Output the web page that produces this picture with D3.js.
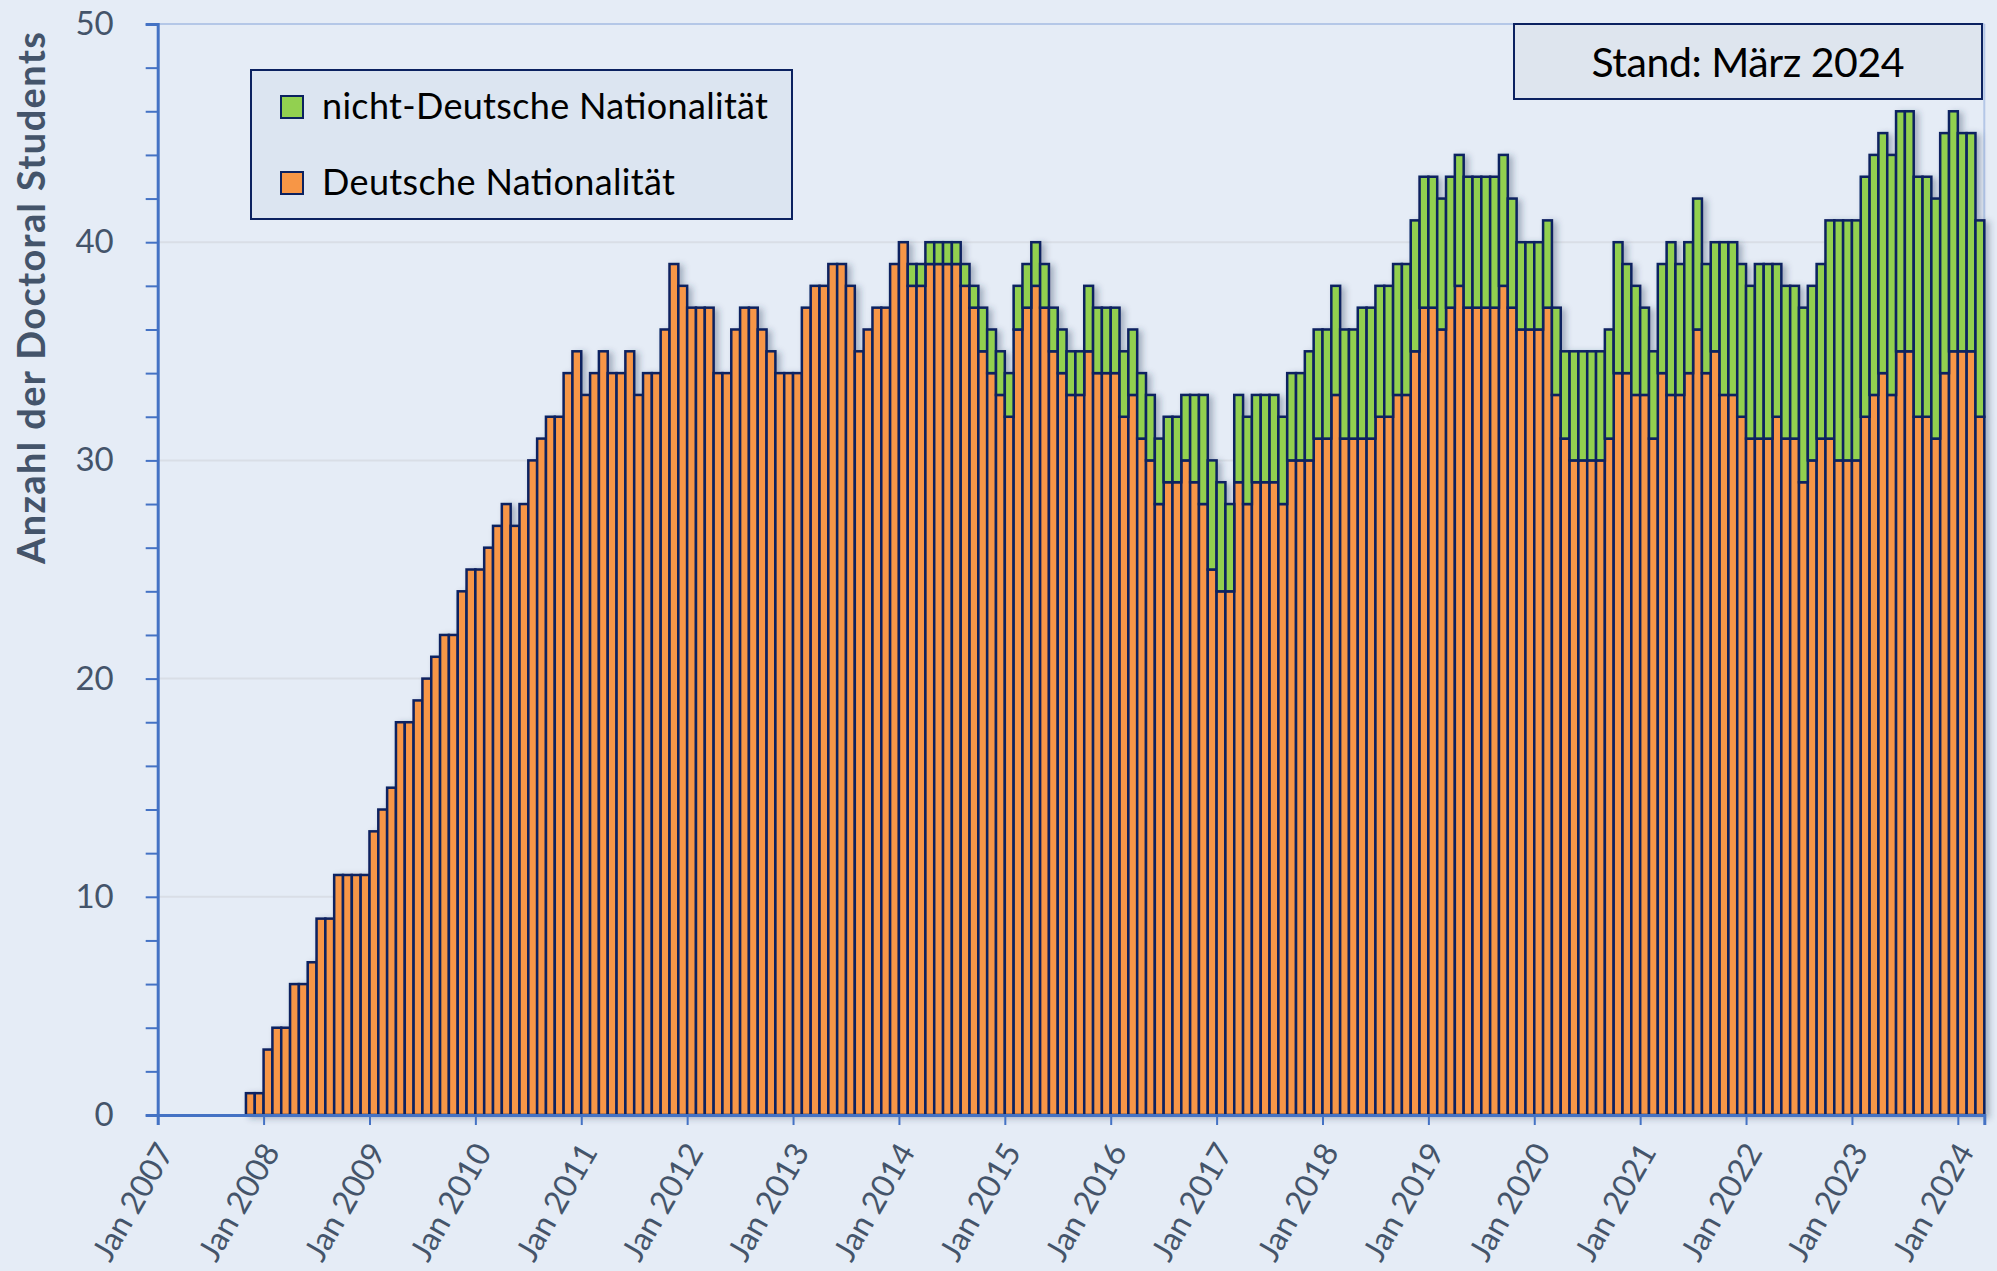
<!DOCTYPE html>
<html>
<head>
<meta charset="utf-8">
<title>Doctoral Students</title>
<script src="https://cdnjs.cloudflare.com/ajax/libs/d3/7.8.5/d3.min.js"></script>
<style>
  body { margin: 0; background: #E5ECF6; }
  svg { display: block; }
  text { font-family: Lato, "Open Sans", sans-serif; }
</style>
</head>
<body>
<div id="chart"></div>
<script>
// first bar = Nov 2007, one value per month up to Mar 2024
const startYear = 2007, startMonth = 10;   // month index 10 = November

const deutsch = [
    1, 1,                                           // 2007
    3, 4, 4, 6, 6, 7, 9, 9, 11, 11, 11, 11,         // 2008
    13, 14, 15, 18, 18, 19, 20, 21, 22, 22, 24, 25, // 2009
    25, 26, 27, 28, 27, 28, 30, 31, 32, 32, 34, 35, // 2010
    33, 34, 35, 34, 34, 35, 33, 34, 34, 36, 39, 38, // 2011
    37, 37, 37, 34, 34, 36, 37, 37, 36, 35, 34, 34, // 2012
    34, 37, 38, 38, 39, 39, 38, 35, 36, 37, 37, 39, // 2013
    40, 38, 38, 39, 39, 39, 39, 38, 37, 35, 34, 33, // 2014
    32, 36, 37, 38, 37, 35, 34, 33, 33, 35, 34, 34, // 2015
    34, 32, 33, 31, 30, 28, 29, 29, 30, 29, 28, 25, // 2016
    24, 24, 29, 28, 29, 29, 29, 28, 30, 30, 30, 31, // 2017
    31, 33, 31, 31, 31, 31, 32, 32, 33, 33, 35, 37, // 2018
    37, 36, 37, 38, 37, 37, 37, 37, 38, 37, 36, 36, // 2019
    36, 37, 33, 31, 30, 30, 30, 30, 31, 34, 34, 33, // 2020
    33, 31, 34, 33, 33, 34, 36, 34, 35, 33, 33, 32, // 2021
    31, 31, 31, 32, 31, 31, 29, 30, 31, 31, 30, 30, // 2022
    30, 32, 33, 34, 33, 35, 35, 32, 32, 31, 34, 35, // 2023
    35, 35, 32                                      // 2024
];

const nichtDeutsch = [
    0, 0,                                           // 2007
    0, 0, 0, 0, 0, 0, 0, 0, 0, 0, 0, 0,             // 2008
    0, 0, 0, 0, 0, 0, 0, 0, 0, 0, 0, 0,             // 2009
    0, 0, 0, 0, 0, 0, 0, 0, 0, 0, 0, 0,             // 2010
    0, 0, 0, 0, 0, 0, 0, 0, 0, 0, 0, 0,             // 2011
    0, 0, 0, 0, 0, 0, 0, 0, 0, 0, 0, 0,             // 2012
    0, 0, 0, 0, 0, 0, 0, 0, 0, 0, 0, 0,             // 2013
    0, 1, 1, 1, 1, 1, 1, 1, 1, 2, 2, 2,             // 2014
    2, 2, 2, 2, 2, 2, 2, 2, 2, 3, 3, 3,             // 2015
    3, 3, 3, 3, 3, 3, 3, 3, 3, 4, 5, 5,             // 2016
    5, 4, 4, 4, 4, 4, 4, 4, 4, 4, 5, 5,             // 2017
    5, 5, 5, 5, 6, 6, 6, 6, 6, 6, 6, 6,             // 2018
    6, 6, 6, 6, 6, 6, 6, 6, 6, 5, 4, 4,             // 2019
    4, 4, 4, 4, 5, 5, 5, 5, 5, 6, 5, 5,             // 2020
    4, 4, 5, 7, 6, 6, 6, 5, 5, 7, 7, 7,             // 2021
    7, 8, 8, 7, 7, 7, 8, 8, 8, 10, 11, 11,          // 2022
    11, 11, 11, 11, 11, 11, 11, 11, 11, 11, 11, 11, // 2023
    10, 10, 9                                       // 2024
];

const tickYears = d3.range(2007, 2025);           // "Jan 2007" ... "Jan 2024"
const yMajor = [0, 10, 20, 30, 40, 50];
const yMinor = d3.range(0, 51, 2);

const seriesLabels = { nicht: "nicht-Deutsche Nationalität", deutsch: "Deutsche Nationalität" };
const standText = "Stand: März 2024";
const yTitle = "Anzahl der Doctoral Students";

const W = 1997, H = 1271;
const plot = { left: 157.7, right: 1984.3, top: 24, bottom: 1115 };

const color = { deutsch: "#F79646", nicht: "#92D050" };
const navy = "#0B2160", axisBlue = "#4472C4", slate = "#44546A";

const svg = d3.select("#chart").append("svg").attr("width", W).attr("height", H);

const defs = svg.append("defs");
defs.append("filter").attr("id", "shadow")
    .attr("x", "-2%").attr("y", "-2%").attr("width", "104%").attr("height", "104%")
  .append("feDropShadow")
    .attr("dx", 4).attr("dy", 2).attr("stdDeviation", 3)
    .attr("flood-color", "#2b3a5a").attr("flood-opacity", 0.35);

// month index 0 = Jan 2007
const x = d3.scaleLinear().domain([0, 207]).range([plot.left, plot.right]);
const y = d3.scaleLinear().domain([0, 50]).range([plot.bottom, plot.top]);

const rows = deutsch.map((v, i) => ({ m: startMonth + i, deutsch: v, nicht: nichtDeutsch[i] }));
const stacked = d3.stack().keys(["deutsch", "nicht"])(rows);

// gridlines + frame
svg.append("g").selectAll("line")
    .data(yMajor.filter(d => d > 0 && d < 50))
    .enter().append("line")
    .attr("x1", plot.left).attr("x2", plot.right)
    .attr("y1", d => y(d)).attr("y2", d => y(d))
    .attr("stroke", "#D9DEE6").attr("stroke-width", 2);

svg.append("line").attr("x1", plot.left).attr("x2", plot.right)
    .attr("y1", plot.top).attr("y2", plot.top)
    .attr("stroke", "#B4C7E7").attr("stroke-width", 2);
svg.append("line").attr("x1", plot.right).attr("x2", plot.right)
    .attr("y1", plot.top).attr("y2", plot.bottom)
    .attr("stroke", "#B4C7E7").attr("stroke-width", 2);

// bars
const bars = svg.append("g").attr("filter", "url(#shadow)");
bars.selectAll("g.series")
    .data(stacked)
    .enter().append("g")
    .attr("class", "series")
    .attr("fill", d => color[d.key])
    .selectAll("rect")
    .data(d => d.filter(s => s[1] > s[0]))
    .enter().append("rect")
    .attr("x", d => x(d.data.m))
    .attr("width", d => x(d.data.m + 1) - x(d.data.m))
    .attr("y", d => y(d[1]))
    .attr("height", d => y(d[0]) - y(d[1]))
    .attr("stroke", navy)
    .attr("stroke-width", 2.5);

// y axis
const yAxis = svg.append("g")
    .attr("transform", "translate(" + plot.left + ",0)")
    .call(d3.axisLeft(y).tickValues(yMinor).tickSize(12).tickPadding(32)
        .tickFormat(d => d % 10 === 0 ? d : ""));
yAxis.select(".domain").attr("stroke", axisBlue).attr("stroke-width", 3);
yAxis.selectAll(".tick line").attr("stroke", axisBlue).attr("stroke-width", 2);
yAxis.selectAll("text")
    .attr("fill", slate)
    .style("font-size", "33px")
    .style("font-family", "Lato, sans-serif");

// x axis
const xAxis = svg.append("g")
    .attr("transform", "translate(0," + plot.bottom + ")")
    .call(d3.axisBottom(x)
        .tickValues(tickYears.map(yr => (yr - startYear) * 12))
        .tickSize(10)
        .tickFormat((d, i) => "Jan " + tickYears[i]));
xAxis.select(".domain").attr("stroke", axisBlue).attr("stroke-width", 3);
xAxis.selectAll(".tick line").attr("stroke", axisBlue).attr("stroke-width", 2);
xAxis.selectAll("text")
    .attr("x", 0).attr("y", 0).attr("dy", "0.35em")
    .attr("transform", "translate(7,31) rotate(-60)")
    .style("text-anchor", "end")
    .attr("fill", slate)
    .style("font-size", "32px")
    .style("font-family", "Lato, sans-serif");

// y title
svg.append("text")
    .attr("transform", "translate(30,298) rotate(-90)")
    .attr("text-anchor", "middle")
    .attr("dominant-baseline", "central")
    .attr("textLength", 532)
    .attr("lengthAdjust", "spacing")
    .attr("fill", slate)
    .style("font-size", "38px")
    .style("font-weight", "bold")
    .text(yTitle);

// legend
const legend = svg.append("g");
legend.append("rect")
    .attr("x", 251).attr("y", 70).attr("width", 541).attr("height", 149)
    .attr("fill", "#DCE5F1").attr("stroke", navy).attr("stroke-width", 2);
["nicht", "deutsch"].forEach(function (k, i) {
    const row = legend.append("g").attr("transform", "translate(281," + (96 + i * 76) + ")");
    row.append("rect").attr("width", 22).attr("height", 22)
        .attr("fill", color[k]).attr("stroke", navy).attr("stroke-width", 2);
    row.append("text")
        .attr("x", 41).attr("y", 23)
        .attr("textLength", k === "nicht" ? 446 : 353)
        .attr("lengthAdjust", "spacing")
        .attr("fill", "#000")
        .style("font-size", "36px")
        .text(seriesLabels[k]);
});

// Stand box
svg.append("rect")
    .attr("x", 1514).attr("y", 24).attr("width", 468).attr("height", 75)
    .attr("fill", "#DEE5EE").attr("stroke", navy).attr("stroke-width", 2);
svg.append("text")
    .attr("x", 1748).attr("y", 77)
    .attr("text-anchor", "middle")
    .attr("textLength", 313)
    .attr("lengthAdjust", "spacing")
    .attr("fill", "#000")
    .style("font-size", "41px")
    .text(standText);
</script>
</body>
</html>
